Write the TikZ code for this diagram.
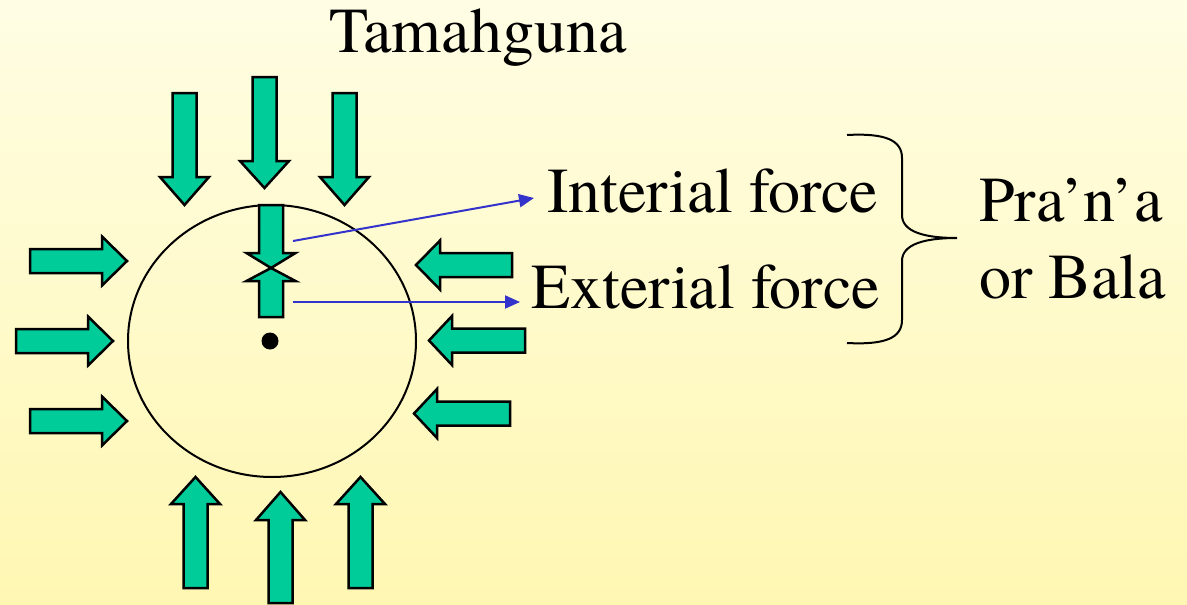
\documentclass[tikz,border=0pt]{standalone}
\usepackage{fontspec}
\newfontfamily\tnr{TeX Gyre Termes}
\usetikzlibrary{arrows.meta}
\definecolor{bgtop}{RGB}{255,253,228}
\definecolor{bgbot}{RGB}{255,247,178}
\definecolor{teal}{RGB}{0,204,153}
\definecolor{blueline}{RGB}{51,51,204}
\tikzset{
  blk/.style={fill=teal,draw=black,line width=2.5pt,line join=miter},
  lbl/.style={inner sep=0pt,anchor=base west,font=\tnr\fontsize{64}{72}\selectfont},
  bluearrow/.style={draw=blueline,line width=2pt,-{Triangle[length=15pt,width=13pt]}},
}
% horizontal block arrow: tail x, head-base x, tip x, centre y
\newcommand\barrowH[4]{\draw[blk] (#1,#4-12) -- (#2,#4-12) -- (#2,#4-24.5) -- (#3,#4) -- (#2,#4+24.5) -- (#2,#4+12) -- (#1,#4+12) -- cycle;}
% vertical block arrow: tail y, head-base y, tip y, centre x
\newcommand\barrowV[4]{\draw[blk] (#4-12,#1) -- (#4-12,#2) -- (#4-24.5,#2) -- (#4,#3) -- (#4+24.5,#2) -- (#4+12,#2) -- (#4+12,#1) -- cycle;}
\begin{document}
\begin{tikzpicture}[x=1pt,y=-1pt]
\useasboundingbox (0,0) rectangle (1187,605);
\shade[top color=bgtop,bottom color=bgbot] (0,0) rectangle (1187,605);

% circle and centre dot
\draw[line width=2pt] (272,341) ellipse (144 and 136);
\fill (270,341) circle (8.5);

% top arrows
\barrowV{93}{177}{205}{184.5}
\barrowV{77}{161}{188}{264.5}
\barrowV{93}{177}{205}{344.5}
% bottom arrows
\barrowV{588}{504}{477}{195.5}
\barrowV{603}{520}{492}{280.5}
\barrowV{588}{504}{477}{360.5}
% left arrows
\barrowH{30}{102}{127}{261}
\barrowH{16}{88}{113}{341}
\barrowH{30}{102}{127}{421}
% right arrows
\barrowH{512}{440}{416}{265}
\barrowH{525}{452}{429}{340.5}
\barrowH{510}{437}{414}{413.5}
% inner opposing arrows
\barrowV{205}{253}{268}{271}
\barrowV{317}{281}{268}{271}

% labels
\node[lbl] (tam) at (329,52) {Tamahguna};
\node[lbl] (int) at (547,212) {Interial force};
\node[lbl] (ext) at (531,308) {Exterial force};
\node[lbl] (pra) at (979,221) {Pra’n’a};
\node[lbl] (bala) at (979,298) {or Bala};

% blue connectors
\coordinate (iS) at (293,241);
\coordinate (iE) at (534,198);
\coordinate (eS) at (293,302);
\coordinate (eE) at (520,302);
\draw[bluearrow] (iS) -- (iE);
\draw[bluearrow] (eS) -- (eE);

% brace
\draw[line width=2pt] (847,135) .. controls (885,133) and (902,140) .. (902,158)
  -- (902,215) .. controls (902,232) and (925,238) .. (957,238)
  .. controls (925,238) and (902,244) .. (902,261)
  -- (902,320) .. controls (902,338) and (885,345) .. (847,343);
\end{tikzpicture}
\end{document}
